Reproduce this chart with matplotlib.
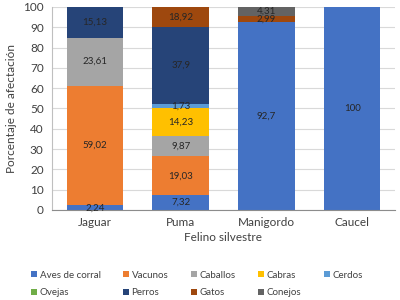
import matplotlib.pyplot as plt
import numpy as np

plt.rcParams['font.family'] = ['Lato', 'DejaVu Sans']

# Datos
felinos = ['Jaguar', 'Puma', 'Manigordo', 'Caucel']
series = ['Aves de corral', 'Vacunos', 'Caballos', 'Cabras', 'Cerdos',
          'Ovejas', 'Perros', 'Gatos', 'Conejos']
aves = [2.24, 7.32, 92.7, 100]
vacunos = [59.02, 19.03, 0, 0]
caballos = [23.61, 9.87, 0, 0]
cabras = [0, 14.23, 0, 0]
cerdos = [0, 1.73, 0, 0]
ovejas = [0, 0, 0, 0]
perros = [15.13, 37.9, 0, 0]
gatos = [0, 18.92, 2.99, 0]
conejos = [0, 0, 4.31, 0]

colores = ['#4472C4', '#ED7D31', '#A5A5A5', '#FFC000', '#5B9BD5',
           '#70AD47', '#264478', '#9E480E', '#636363']

valores = [aves, vacunos, caballos, cabras, cerdos, ovejas, perros, gatos, conejos]

fig = plt.figure(figsize=(4, 3), dpi=100)
ax = fig.add_axes([0.13, 0.30, 0.8575, 0.677])

x = np.arange(len(felinos))
base = np.zeros(len(felinos))
for nombre, vals, color in zip(series, valores, colores):
    vals = np.array(vals, dtype=float)
    ax.bar(x, vals, 0.66, bottom=base, color=color, label=nombre, zorder=2)
    for i, v in enumerate(vals):
        if v > 0:
            top = min(base[i] + v, 100)
            y = (base[i] + top) / 2
            texto = ('%g' % v).replace('.', ',')
            ax.text(x[i], y, texto, ha='center', va='center', fontsize=7,
                    color='#262626', zorder=3)
    base = base + vals

ax.set_ylim(0, 100)
ax.set_xlim(-0.5, 3.5)
ax.set_yticks(range(0, 101, 10))
ax.set_xticks(x)
ax.set_xticklabels(felinos, fontsize=8.5, color='#404040')
ax.tick_params(axis='y', labelsize=8.5, colors='#404040', length=0, pad=6)
ax.tick_params(axis='x', length=0, pad=5)
ax.grid(axis='y', color='#D9D9D9', linewidth=0.8, zorder=0)
for s in ['top', 'right']:
    ax.spines[s].set_visible(False)
ax.spines['left'].set_color('#BFBFBF')
ax.spines['bottom'].set_color('#8C8C8C')
ax.set_ylabel('Porcentaje de afectación', fontsize=8.5, color='#404040', labelpad=4)
ax.set_xlabel('Felino silvestre', fontsize=8.5, color='#404040', labelpad=3)

# leyenda por filas
handles, labels = ax.get_legend_handles_labels()
orden = [0, 5, 1, 6, 2, 7, 3, 8, 4]
fig.legend([handles[k] for k in orden], [labels[k] for k in orden],
           loc='lower left', bbox_to_anchor=(0.055, -0.02), ncol=5, frameon=False,
           fontsize=7, handlelength=0.6, handleheight=0.6, handletextpad=0.3,
           columnspacing=2.3, labelcolor='#404040', labelspacing=0.9)

fig.savefig('out.png', dpi=100)
